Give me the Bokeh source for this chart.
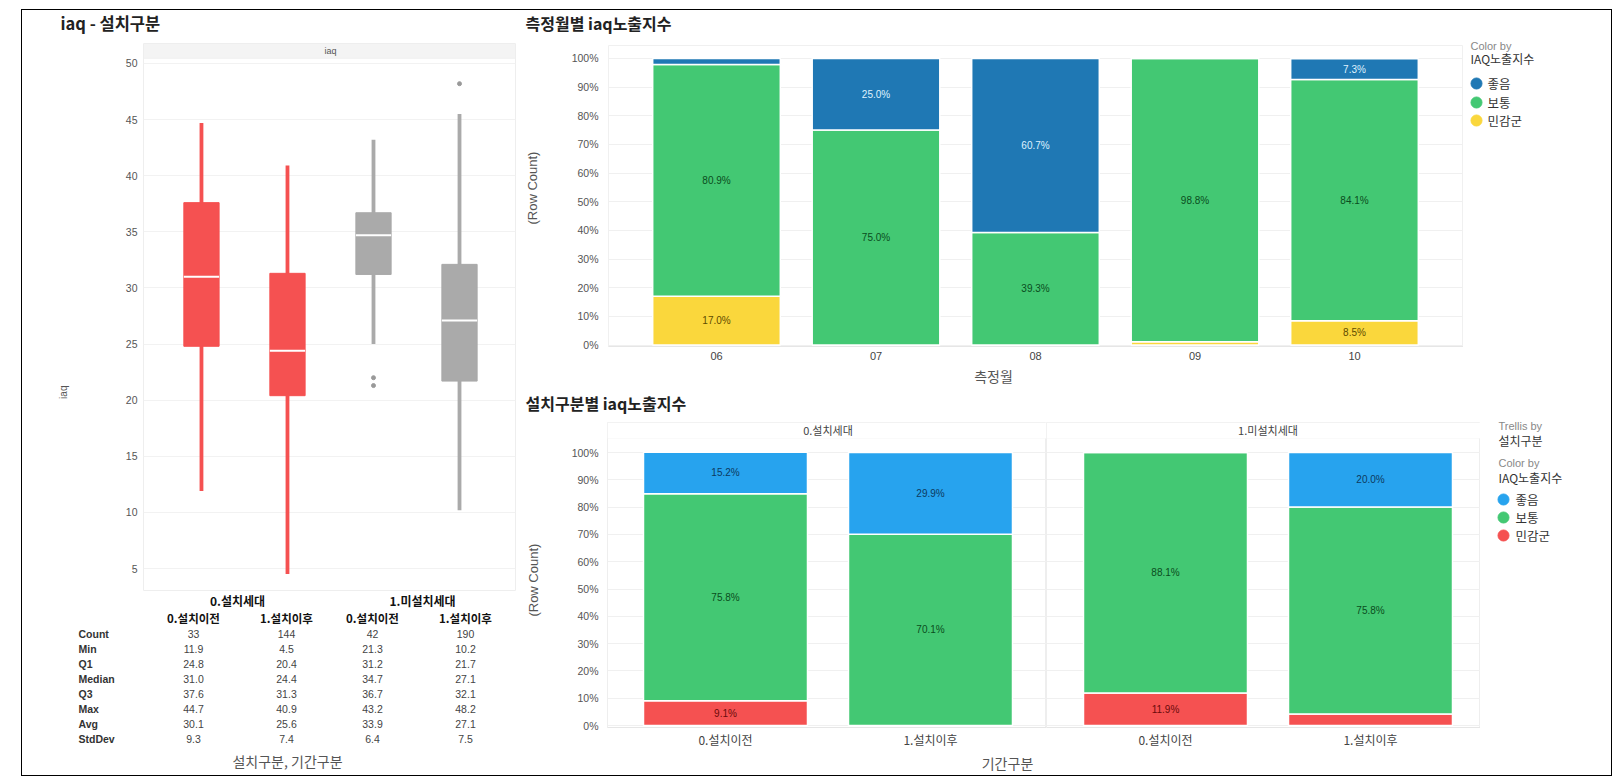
import math
from bokeh.plotting import figure
from bokeh.models import (Range1d, FixedTicker, SingleIntervalTicker, PrintfTickFormatter,
                          BoxAnnotation, ColumnDataSource, Spacer, Grid)
from bokeh.layouts import row, column
from bokeh.embed import file_html
from bokeh.resources import INLINE
from bokeh.core.properties import value

# ---------------- data ----------------
box_groups = ["0.설치세대", "0.설치세대", "1.미설치세대", "1.미설치세대"]
box_periods = ["0.설치이전", "1.설치이후", "0.설치이전", "1.설치이후"]
box_count = [33, 144, 42, 190]
box_min = [11.9, 4.5, 21.3, 10.2]
box_q1 = [24.8, 20.4, 31.2, 21.7]
box_median = [31.0, 24.4, 34.7, 27.1]
box_q3 = [37.6, 31.3, 36.7, 32.1]
box_max = [44.7, 40.9, 43.2, 48.2]
box_avg = [30.1, 25.6, 33.9, 27.1]
box_std = [9.3, 7.4, 6.4, 7.5]
whisker_low = [11.9, 4.5, 25.0, 10.2]
whisker_high = [44.7, 40.9, 43.2, 45.5]
outlier_box = [2, 2, 3]
outlier_val = [21.3, 22.0, 48.2]
stat_names = ["Count", "Min", "Q1", "Median", "Q3", "Max", "Avg", "StdDev"]

months = ["06", "07", "08", "09", "10"]
month_good = [2.1, 25.0, 60.7, 0.0, 7.3]
month_normal = [80.9, 75.0, 39.3, 98.8, 84.1]
month_sens = [17.0, 0.0, 0.0, 1.2, 8.5]

facets = ["0.설치세대", "1.미설치세대"]
periods = ["0.설치이전", "1.설치이후"]
inst_good = [[15.2, 29.9], [0.0, 20.0]]
inst_normal = [[75.8, 70.1], [88.1, 75.8]]
inst_sens = [[9.1, 0.0], [11.9, 4.2]]

levels = ["좋음", "보통", "민감군"]
pct_ticks = list(range(0, 101, 10))

# ---------------- styles ----------------
FK = "Noto Sans CJK KR"
FL = "Liberation Sans"
C_RED = "#f55151"
C_GRAY = "#aaaaaa"
C_BLUE_D = "#1f78b4"
C_BLUE_L = "#27a3ee"
C_GREEN = "#43c873"
C_YELLOW = "#fad73c"


def base_fig(**kw):
    return figure(output_backend="svg", toolbar_location=None, background_fill_color="white",
                  border_fill_color="white", **kw)


def pix_fig(w, h):
    p = base_fig(width=w, height=h, x_range=Range1d(0, w), y_range=Range1d(h, 0),
                 x_axis_location=None, y_axis_location=None, min_border=0, outline_line_color=None)
    p.grid.visible = False
    return p


def ptext(p, x, y, text, size, color="#222", font=FK, bold=False, align="left", angle=0.0):
    p.text(x=x, y=y, text=text, text_font=value(font), text_font_size=size, text_color=color,
           text_font_style="bold" if bold else "normal", text_align=align, text_baseline="middle",
           angle=angle)


def style_y(p, standoff):
    ax = p.yaxis[0]
    ax.axis_line_color = None
    ax.major_tick_line_color = None
    ax.minor_tick_line_color = None
    ax.major_tick_out = 0
    ax.major_tick_in = 0
    ax.minor_tick_out = 0
    ax.major_label_text_font = FL
    ax.major_label_text_font_size = "10.5px"
    ax.major_label_text_color = "#555"
    ax.major_label_standoff = standoff


def style_x(p, labels, size, font, standoff):
    xa = p.xaxis[0]
    xa.ticker = FixedTicker(ticks=list(range(len(labels))))
    xa.major_label_overrides = {i: t for i, t in enumerate(labels)}
    xa.axis_line_color = "#e6e6e6"
    xa.major_tick_line_color = None
    xa.minor_tick_line_color = None
    xa.major_tick_out = 0
    xa.major_tick_in = 0
    xa.minor_tick_out = 0
    xa.major_label_text_font = font
    xa.major_label_text_font_size = size
    xa.major_label_text_color = "#444"
    xa.major_label_standoff = standoff


def stacked(p, xs, sens, normal, good, colors, txt_colors, thresh=5.0):
    src = ColumnDataSource(dict(x=xs, sens=sens, normal=normal, good=good))
    p.vbar_stack(["sens", "normal", "good"], x="x", width=0.8, color=colors, line_color="white",
                 line_width=1.5, source=src)
    lx, ly, lt, lc = [], [], [], []
    for i, x in enumerate(xs):
        bottom = 0.0
        for series, tc in zip([sens, normal, good], txt_colors):
            v = series[i]
            if v >= thresh:
                lx.append(x)
                ly.append(bottom + v / 2)
                lt.append(f"{v:.1f}%")
                lc.append(tc)
            bottom += v
    p.text(x=lx, y=ly, text=lt, text_color=lc, text_font=value(FL), text_font_size="10px",
           text_align="center", text_baseline="middle")


# ================= LEFT COLUMN (x 22..521) =================
t_left = pix_fig(499, 33)
ptext(t_left, [38], [12], ["iaq - 설치구분"], "16.5px", bold=True)

pad_left = pix_fig(100, 549)
ptext(pad_left, [41], [350], ["iaq"], "10px", color="#555", font=FL, align="center", angle=math.pi / 2)

bx = base_fig(width=399, height=549, x_range=Range1d(-0.674, 3.651), y_range=Range1d(3.04, 51.78),
              x_axis_location=None, min_border_left=21, min_border_right=6, min_border_top=0,
              min_border_bottom=2, outline_line_color="#eeeeee")
style_y(bx, 6)
bx.yaxis[0].ticker = SingleIntervalTicker(interval=5, num_minor_ticks=0)
bx.ygrid.grid_line_color = "#f2f2f2"
bx.xgrid.grid_line_color = None
bx.add_layout(BoxAnnotation(bottom=50.45, fill_color="#f4f4f4", fill_alpha=1, line_color="#e8e8e8",
                            level="underlay"))
box_x = list(range(len(box_periods)))
box_col = [C_RED if g == box_groups[0] else C_GRAY for g in box_groups]
bsrc = ColumnDataSource(dict(x=box_x, lo=whisker_low, hi=whisker_high, q1=box_q1, q3=box_q3,
                             med=box_median, c=box_col))
bx.segment(x0="x", y0="lo", x1="x", y1="hi", line_color="c", line_width=3.8, source=bsrc)
bx.vbar(x="x", bottom="q1", top="q3", width=0.41, fill_color="c", line_color="c", source=bsrc)
bx.rect(x="x", y="med", width=0.41, height=2, height_units="screen", fill_color="white",
        line_color=None, source=bsrc)
bx.scatter(x=[box_x[i] for i in outlier_box], y=outlier_val, size=4, color="#999999")
bx.text(x=[sum(box_x) / len(box_x)], y=[51.12], text=["iaq"], text_font=value(FL), text_font_size="9px",
        text_color="#555", text_align="center", text_baseline="middle")

tb = pix_fig(499, 183)
col_x = [171, 264, 350, 443]
grp_x = [215, 400]
row_y = [41 + 15.14 * i for i in range(len(stat_names))]
ptext(tb, grp_x, [8, 8], facets, "12px", color="#111", bold=True, align="center")
ptext(tb, col_x, [25] * 4, box_periods, "11.5px", color="#111", bold=True, align="center")
ptext(tb, [56] * len(stat_names), row_y, stat_names, "10.5px", color="#333", font=FL, bold=True)
stat_rows = [box_count, box_min, box_q1, box_median, box_q3, box_max, box_avg, box_std]
tx, ty, tt = [], [], []
for r, vals in enumerate(stat_rows):
    for c, v in enumerate(vals):
        tx.append(col_x[c])
        ty.append(row_y[r])
        tt.append(str(v) if r == 0 else f"{v:.1f}")
ptext(tb, tx, ty, tt, "10.5px", color="#444", font=FL, align="center")
ptext(tb, [265], [168], ["설치구분, 기간구분"], "14px", color="#555", align="center")

left = column(t_left, row(pad_left, bx), tb)

# ================= RIGHT TOP (x 521..1611, y 10..385) =================
t_top = pix_fig(942, 35)
ptext(t_top, [4], [12], ["측정월별 iaq노출지수"], "16px", bold=True)

pad_top = pix_fig(39, 321)
ptext(pad_top, [11], [152], ["(Row Count)"], "13px", color="#555", font=FL, align="center", angle=math.pi / 2)

tp = base_fig(width=903, height=321, x_range=Range1d(-0.6771, 4.6834), y_range=Range1d(-0.5, 104.5),
              min_border_left=48, min_border_right=0, min_border_top=0, min_border_bottom=20,
              outline_line_color="#f0f0f0")
style_y(tp, 10)
tp.yaxis[0].ticker = FixedTicker(ticks=pct_ticks)
tp.yaxis[0].formatter = PrintfTickFormatter(format="%d%%")
style_x(tp, months, "11px", FL, 5)
tp.ygrid.grid_line_color = "#f0f0f0"
tp.xgrid.grid_line_color = None
stacked(tp, list(range(len(months))), month_sens, month_normal, month_good,
        [C_YELLOW, C_GREEN, C_BLUE_D], ["#5e4b00", "#0a4d20", "#dff2ff"])

xl_top = pix_fig(942, 19)
ptext(xl_top, [472], [9], ["측정월"], "14px", color="#555", align="center")

tl = pix_fig(147, 375)
ptext(tl, [7], [35], ["Color by"], "11px", color="#888", font=FL)
ptext(tl, [7], [48], ["IAQ노출지수"], "12px", color="#333")
tl.scatter(x=[13] * 3, y=[73, 92, 110], size=11, color=[C_BLUE_D, C_GREEN, C_YELLOW])
ptext(tl, [24] * 3, [73, 92, 110], levels, "12.5px", color="#333")

top_block = row(column(t_top, row(pad_top, tp), xl_top), tl)

# ================= RIGHT BOTTOM (x 521..1611, y 385..775) =================
t_bot = pix_fig(959, 37)
ptext(t_bot, [4], [17], ["설치구분별  iaq노출지수"], "16px", bold=True)

pad_bot = pix_fig(39, 329)
ptext(pad_bot, [12], [170], ["(Row Count)"], "13px", color="#555", font=FL, align="center", angle=math.pi / 2)

pan = []
for k in range(len(facets)):
    if k == 0:
        p = base_fig(width=486, height=329, x_range=Range1d(-0.5756, 1.5659), y_range=Range1d(-0.7326, 110.99),
                     min_border_left=47, min_border_right=0, min_border_top=0, min_border_bottom=24,
                     outline_line_color="#eeeeee")
        style_y(p, 9)
        p.yaxis[0].ticker = FixedTicker(ticks=pct_ticks)
        p.yaxis[0].formatter = PrintfTickFormatter(format="%d%%")
        p.ygrid.grid_line_color = "#f0f0f0"
    else:
        p = base_fig(width=434, height=329, x_range=Range1d(-0.5805, 1.5366), y_range=Range1d(-0.7326, 110.99),
                     y_axis_location=None, min_border_left=0, min_border_right=0, min_border_top=0,
                     min_border_bottom=24, outline_line_color="#eeeeee")
        p.ygrid.visible = False
        p.add_layout(Grid(dimension=1, ticker=FixedTicker(ticks=pct_ticks), grid_line_color="#f0f0f0"))
    p.xgrid.grid_line_color = None
    style_x(p, periods, "12px", FK, 3)
    p.add_layout(BoxAnnotation(bottom=105.13, fill_color="#ffffff", fill_alpha=1, line_color="#eeeeee",
                               level="underlay"))
    stacked(p, list(range(len(periods))), inst_sens[k], inst_normal[k], inst_good[k],
            [C_RED, C_GREEN, C_BLUE_L], ["#6a0b0b", "#0a4d20", "#0d3a60"])
    p.text(x=[(len(periods) - 1) / 2], y=[108.06], text=[facets[k]], text_font=value(FK), text_font_size="11px",
           text_color="#444", text_align="center", text_baseline="middle")
    pan.append(p)

xl_bot = pix_fig(959, 24)
ptext(xl_bot, [486], [11], ["기간구분"], "14px", color="#555", align="center")

bl = pix_fig(131, 390)
ptext(bl, [18], [40], ["Trellis by"], "11px", color="#888", font=FL)
ptext(bl, [18], [55], ["설치구분"], "12px", color="#333")
ptext(bl, [18], [77], ["Color by"], "11px", color="#888", font=FL)
ptext(bl, [18], [92], ["IAQ노출지수"], "12px", color="#333")
bl.scatter(x=[23] * 3, y=[114, 132, 150], size=11, color=[C_BLUE_L, C_GREEN, C_RED])
ptext(bl, [35] * 3, [114, 132, 150], levels, "12.5px", color="#333")

bot_block = row(column(t_bot, row(pad_bot, pan[0], pan[1]), xl_bot), bl)

right = column(top_block, bot_block)

# ================= PAGE =================
inner = row(left, right, styles={"border": "1px solid #000"})
page = column(Spacer(width=1, height=9), row(Spacer(width=21, height=1), inner))

open("out.html", "w").write(file_html(page, INLINE))
